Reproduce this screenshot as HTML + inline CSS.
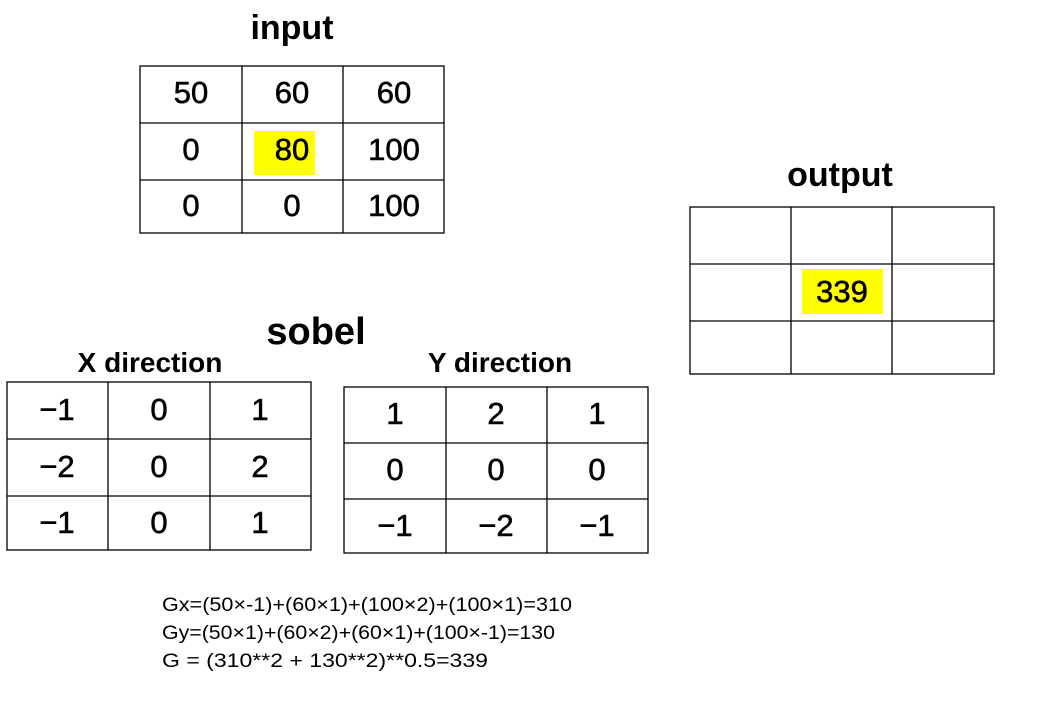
<!DOCTYPE html>
<html><head><meta charset="utf-8"><style>html,body{margin:0;padding:0;background:#fff}</style></head>
<body>
<svg width="1052" height="698" xmlns="http://www.w3.org/2000/svg" font-family="Liberation Sans, sans-serif">
<rect width="1052" height="698" fill="#fff"/>
<rect x="254" y="131" width="61" height="44" fill="#ffff00"/>
<rect x="802" y="269" width="81" height="45" fill="#ffff00"/>
<g fill="none" stroke="#000" stroke-width="1.3">
<rect x="140" y="66" width="304" height="167"/>
<line x1="242" y1="66" x2="242" y2="233"/><line x1="343" y1="66" x2="343" y2="233"/>
<line x1="140" y1="123" x2="444" y2="123"/><line x1="140" y1="180" x2="444" y2="180"/>
<rect x="690" y="207" width="304" height="167"/>
<line x1="791" y1="207" x2="791" y2="374"/><line x1="892" y1="207" x2="892" y2="374"/>
<line x1="690" y1="264" x2="994" y2="264"/><line x1="690" y1="321" x2="994" y2="321"/>
<rect x="7" y="382" width="304" height="168"/>
<line x1="108" y1="382" x2="108" y2="550"/><line x1="210" y1="382" x2="210" y2="550"/>
<line x1="7" y1="439" x2="311" y2="439"/><line x1="7" y1="496" x2="311" y2="496"/>
<rect x="344" y="387" width="304" height="166"/>
<line x1="446" y1="387" x2="446" y2="553"/><line x1="547" y1="387" x2="547" y2="553"/>
<line x1="344" y1="443" x2="648" y2="443"/><line x1="344" y1="499" x2="648" y2="499"/>
</g>
<g font-weight="bold" text-anchor="middle" fill="#000">
<text x="292" y="39" font-size="34">input</text>
<text x="840" y="186" font-size="34">output</text>
<text x="316" y="344" font-size="38">sobel</text>
<text x="150" y="372" font-size="28">X direction</text>
<text x="500" y="372" font-size="28">Y direction</text>
</g>
<g text-anchor="middle" font-size="31" fill="#000" stroke="#000" stroke-width="0.6">
<text x="191" y="103">50</text><text x="292" y="103">60</text><text x="394" y="103">60</text>
<text x="191" y="160">0</text><text x="292" y="160">80</text><text x="394" y="160">100</text>
<text x="191" y="216">0</text><text x="292" y="216">0</text><text x="394" y="216">100</text>
<text x="842" y="302">339</text>
<text x="57" y="420">−1</text><text x="159" y="420">0</text><text x="260" y="420">1</text>
<text x="57" y="477">−2</text><text x="159" y="477">0</text><text x="260" y="477">2</text>
<text x="57" y="533">−1</text><text x="159" y="533">0</text><text x="260" y="533">1</text>
<text x="395" y="424">1</text><text x="496" y="424">2</text><text x="597" y="424">1</text>
<text x="395" y="480">0</text><text x="496" y="480">0</text><text x="597" y="480">0</text>
<text x="395" y="536">−1</text><text x="496" y="536">−2</text><text x="597" y="536">−1</text>
</g>
<g font-size="19" fill="#000">
<text x="162" y="611" textLength="410" lengthAdjust="spacingAndGlyphs">Gx=(50×-1)+(60×1)+(100×2)+(100×1)=310</text>
<text x="162" y="639" textLength="393" lengthAdjust="spacingAndGlyphs">Gy=(50×1)+(60×2)+(60×1)+(100×-1)=130</text>
<text x="162" y="667" textLength="326" lengthAdjust="spacingAndGlyphs">G = (310**2 + 130**2)**0.5=339</text>
</g>
</svg>
</body></html>
